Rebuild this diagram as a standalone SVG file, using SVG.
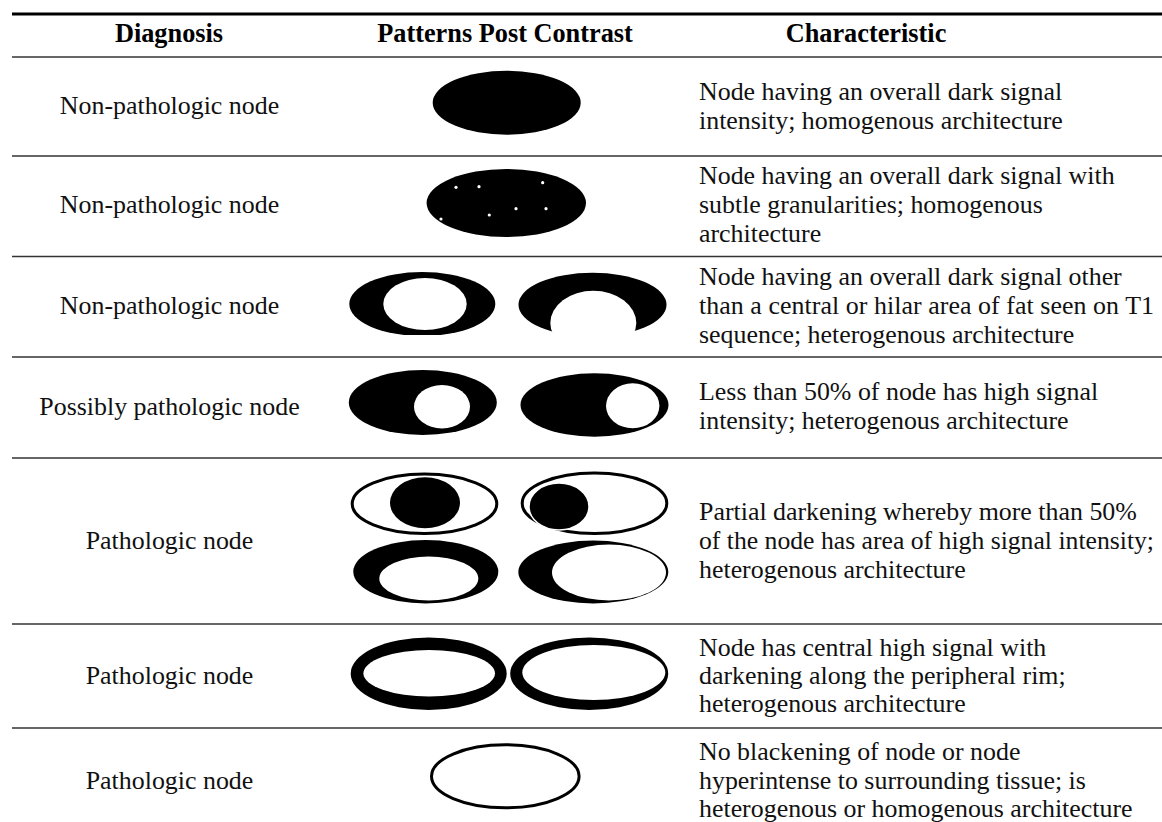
<svg xmlns="http://www.w3.org/2000/svg" width="1162" height="822" viewBox="0 0 1162 822">
<style>
.t{font-family:"Liberation Serif","Times New Roman",serif;font-size:25.9px;fill:#111}
.h{font-family:"Liberation Serif","Times New Roman",serif;font-size:26.3px;font-weight:bold;fill:#000}
.c{text-anchor:middle}
.rule{stroke:#333;stroke-width:1.6}
.blk{fill:#000}
.wht{fill:#fff}
.ol{fill:#fff;stroke:#000;stroke-width:3}
</style>
<rect width="1162" height="822" fill="#fff"/>
<g id="rules">
<line x1="12" y1="14" x2="1162" y2="14" stroke="#000" stroke-width="2.8"/>
<line class="rule" x1="12" y1="57" x2="1162" y2="57"/>
<line class="rule" x1="12" y1="156" x2="1162" y2="156"/>
<line class="rule" x1="12" y1="256.5" x2="1162" y2="256.5"/>
<line class="rule" x1="12" y1="357" x2="1162" y2="357"/>
<line class="rule" x1="12" y1="458" x2="1162" y2="458"/>
<line class="rule" x1="12" y1="624" x2="1162" y2="624" stroke="#666"/>
<line class="rule" x1="12" y1="728" x2="1162" y2="728"/>
</g>
<g id="header">
<text class="h c" x="169" y="42">Diagnosis</text>
<text class="h c" x="505" y="42">Patterns Post Contrast</text>
<text class="h c" x="866" y="42">Characteristic</text>
</g>
<g id="row1">
<text class="t c" x="169.5" y="114">Non-pathologic node</text>
<ellipse class="blk" cx="506.7" cy="102.7" rx="74" ry="32"/>
<text class="t" x="699"><tspan x="699" y="100">Node having an overall dark signal</tspan><tspan x="699" y="129">intensity; homogenous architecture</tspan></text>
</g>
<g id="row2">
<text class="t c" x="169.5" y="213">Non-pathologic node</text>
<ellipse class="blk" cx="506.3" cy="203" rx="79.7" ry="34"/>
<g class="wht">
<circle cx="456" cy="187.3" r="1.6"/><circle cx="479" cy="186.7" r="1.6"/><circle cx="542.7" cy="182.7" r="1.6"/><circle cx="516" cy="208.7" r="1.6"/><circle cx="546" cy="208.7" r="1.6"/><circle cx="489.3" cy="215" r="1.6"/><circle cx="441" cy="219" r="1.6"/>
</g>
<text class="t" x="699"><tspan x="699" y="184">Node having an overall dark signal with</tspan><tspan x="699" y="213">subtle granularities; homogenous</tspan><tspan x="699" y="242">architecture</tspan></text>
</g>
<g id="row3">
<text class="t c" x="169.5" y="314">Non-pathologic node</text>
<clipPath id="cut3"><rect x="340" y="260" width="170" height="75"/></clipPath>
<ellipse class="blk" cx="422.3" cy="304" rx="73" ry="32" clip-path="url(#cut3)"/>
<ellipse class="wht" cx="425" cy="304" rx="41.7" ry="26"/>
<ellipse class="blk" cx="592.5" cy="304.7" rx="74" ry="32"/>
<ellipse class="wht" cx="593.3" cy="323" rx="43" ry="32.3"/>
<text class="t" x="699"><tspan x="699" y="285">Node having an overall dark signal other</tspan><tspan x="699" y="314" textLength="455" lengthAdjust="spacing">than a central or hilar area of fat seen on T1</tspan><tspan x="699" y="343">sequence; heterogenous architecture</tspan></text>
</g>
<g id="row4">
<text class="t c" x="169.5" y="415">Possibly pathologic node</text>
<ellipse class="blk" cx="422.8" cy="402.5" rx="74" ry="32.5"/>
<ellipse class="wht" cx="442" cy="406.7" rx="28" ry="21.7"/>
<ellipse class="blk" cx="594.5" cy="405" rx="74" ry="31.7"/>
<ellipse class="wht" cx="632.7" cy="405.8" rx="26.7" ry="22.5"/>
<text class="t" x="699"><tspan x="699" y="400">Less than 50% of node has high signal</tspan><tspan x="699" y="429">intensity; heterogenous architecture</tspan></text>
</g>
<g id="row5">
<text class="t c" x="169.5" y="548.5">Pathologic node</text>
<ellipse class="ol" cx="424.5" cy="503.8" rx="72.3" ry="29.7"/>
<ellipse class="blk" cx="425" cy="502.8" rx="35" ry="25.5"/>
<ellipse class="ol" cx="594.5" cy="503.3" rx="72.3" ry="30.2"/>
<ellipse class="blk" cx="559" cy="506.5" rx="30" ry="23.5" stroke="#fff" stroke-width="1.5"/>
<ellipse class="blk" cx="425.8" cy="571.7" rx="72.5" ry="31.7"/>
<ellipse class="wht" cx="428.8" cy="578.5" rx="49.5" ry="22"/>
<ellipse class="blk" cx="593.3" cy="572" rx="75" ry="31.5"/>
<ellipse class="wht" cx="609" cy="572.5" rx="57" ry="28"/>
<text class="t" x="699"><tspan x="699" y="519.5">Partial darkening whereby more than 50%</tspan><tspan x="699" y="548.5" textLength="455" lengthAdjust="spacingAndGlyphs">of the node has area of high signal intensity;</tspan><tspan x="699" y="577.5">heterogenous architecture</tspan></text>
</g>
<g id="row6">
<text class="t c" x="169.5" y="683.5">Pathologic node</text>
<ellipse class="blk" cx="428.7" cy="673.7" rx="78" ry="36.3"/>
<ellipse class="wht" cx="429.2" cy="673.3" rx="65.8" ry="23.3"/>
<ellipse class="blk" cx="589.2" cy="673.7" rx="79" ry="36.3"/>
<ellipse class="wht" cx="593.8" cy="672.5" rx="71.5" ry="27.5"/>
<text class="t" x="699"><tspan x="699" y="656">Node has central high signal with</tspan><tspan x="699" y="684">darkening along the peripheral rim;</tspan><tspan x="699" y="712">heterogenous architecture</tspan></text>
</g>
<g id="row7">
<text class="t c" x="169.5" y="789">Pathologic node</text>
<ellipse class="ol" cx="505.3" cy="776.3" rx="73.8" ry="31.5"/>
<text class="t" x="699"><tspan x="699" y="760">No blackening of node or node</tspan><tspan x="699" y="789">hyperintense to surrounding tissue; is</tspan><tspan x="699" y="817">heterogenous or homogenous architecture</tspan></text>
</g>
</svg>
